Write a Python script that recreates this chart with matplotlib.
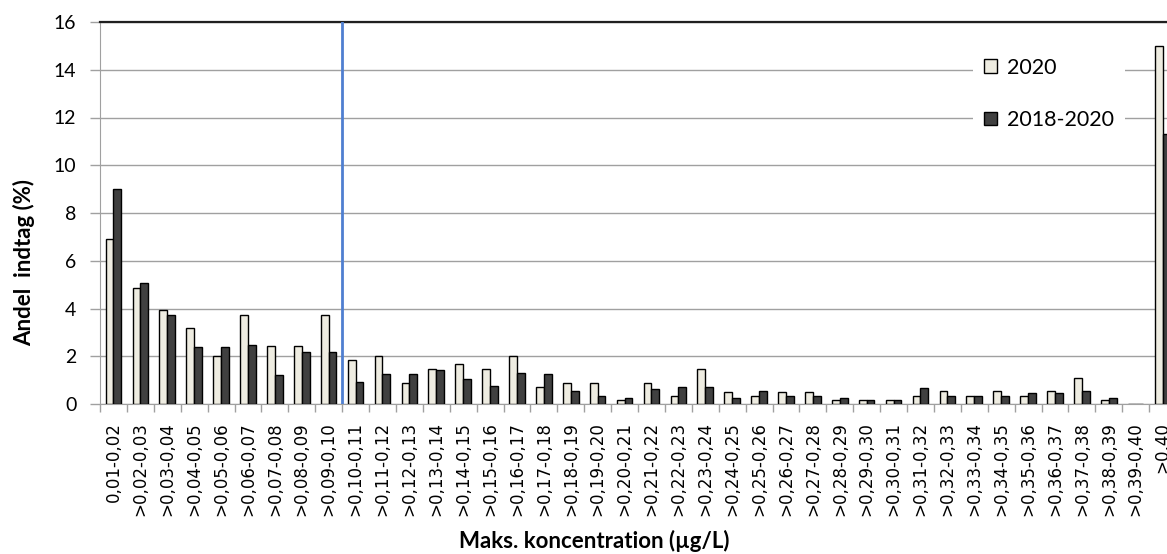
import matplotlib
matplotlib.use("Agg")
import matplotlib.pyplot as plt
import numpy as np

categories = ["0,01-0,02"] + [">0,%02d-0,%02d" % (i, i + 1) for i in range(2, 40)] + [">0,40"]
values_2020 = [6.9, 4.85, 3.92, 3.17, 2.03, 3.72, 2.41, 2.41, 3.72, 1.84,
               2.03, 0.89, 1.48, 1.66, 1.48, 2.03, 0.72, 0.89, 0.89, 0.16,
               0.89, 0.33, 1.48, 0.52, 0.33, 0.52, 0.52, 0.16, 0.16, 0.16,
               0.35, 0.54, 0.35, 0.54, 0.35, 0.54, 1.1, 0.16, 0.0, 15.0]
values_1820 = [9.0, 5.05, 3.72, 2.37, 2.37, 2.48, 1.22, 2.18, 2.18, 0.94,
               1.24, 1.24, 1.41, 1.03, 0.74, 1.31, 1.24, 0.54, 0.35, 0.26,
               0.62, 0.72, 0.72, 0.26, 0.54, 0.35, 0.35, 0.26, 0.16, 0.16,
               0.65, 0.35, 0.35, 0.35, 0.45, 0.45, 0.55, 0.26, 0.0, 11.32]
series_names = ["2020", "2018-2020"]
yticks = [0, 2, 4, 6, 8, 10, 12, 14, 16]
limit_boundary = 8.5

W, H = 1167, 554
fig = plt.figure(figsize=(W / 100, H / 100), dpi=100)
ax = fig.add_axes([100 / W, (H - 404) / H, 1076 / W, 382 / H])

x = np.arange(len(categories))
bw = 0.29
ax.bar(x - bw / 2, values_2020, width=bw, color="#EEECE1", edgecolor="black",
       linewidth=1.0, label=series_names[0], zorder=3)
ax.bar(x + bw / 2, values_1820, width=bw, color="#404040", edgecolor="black",
       linewidth=1.0, label=series_names[1], zorder=3)

ax.set_xlim(-0.5, len(categories) - 0.5)
ax.set_ylim(0, 16)
ax.set_yticks(yticks)
ax.set_yticklabels([str(t) for t in yticks], fontfamily="Lato", fontsize=14)
ax.yaxis.grid(True, color="#A0A0A0", linewidth=1.0, zorder=0)
ax.set_axisbelow(True)

ax.set_xticks(x)
ax.set_xticklabels(categories, rotation=90, fontfamily="DejaVu Sans", fontsize=12, va="top")
ax.set_xticks(np.arange(-0.5, len(categories), 1.0), minor=True)
ax.tick_params(axis="x", which="major", length=0, pad=13)
ax.tick_params(axis="x", which="minor", length=6, color="#A0A0A0", width=1)
ax.tick_params(axis="y", length=7, color="#A0A0A0", width=1, pad=10)

ax.spines["right"].set_visible(False)
ax.spines["top"].set_color("#202020")
ax.spines["top"].set_linewidth(1.6)
ax.spines["left"].set_color("#A0A0A0")
ax.spines["bottom"].set_color("#A0A0A0")

ax.axvline(limit_boundary, color="#4F7FD0", linewidth=2, zorder=4)

ax.set_ylabel("Andel  indtag (%)", fontfamily="Lato", fontweight="bold", fontsize=16, va="center")
ax.yaxis.set_label_coords((24 - 100) / 1076, (404 - 262) / 382)
ax.set_xlabel("Maks. koncentration (µg/L)", fontfamily="Lato", fontweight="bold", fontsize=16, va="center")
ax.xaxis.set_label_coords((594 - 100) / 1076, (404 - 541) / 382)

leg = ax.legend(loc="upper left", bbox_to_anchor=(973 / W, (H - 47) / H),
                bbox_transform=fig.transFigure, frameon=True, fancybox=False,
                facecolor="white", edgecolor="none", framealpha=1,
                prop={"family": "Lato", "size": 15.5}, handlelength=0.62,
                handleheight=0.62, handletextpad=0.45, labelspacing=1.5,
                borderpad=0.5, borderaxespad=0)
leg.set_zorder(5)

fig.savefig("out.png", dpi=100)
